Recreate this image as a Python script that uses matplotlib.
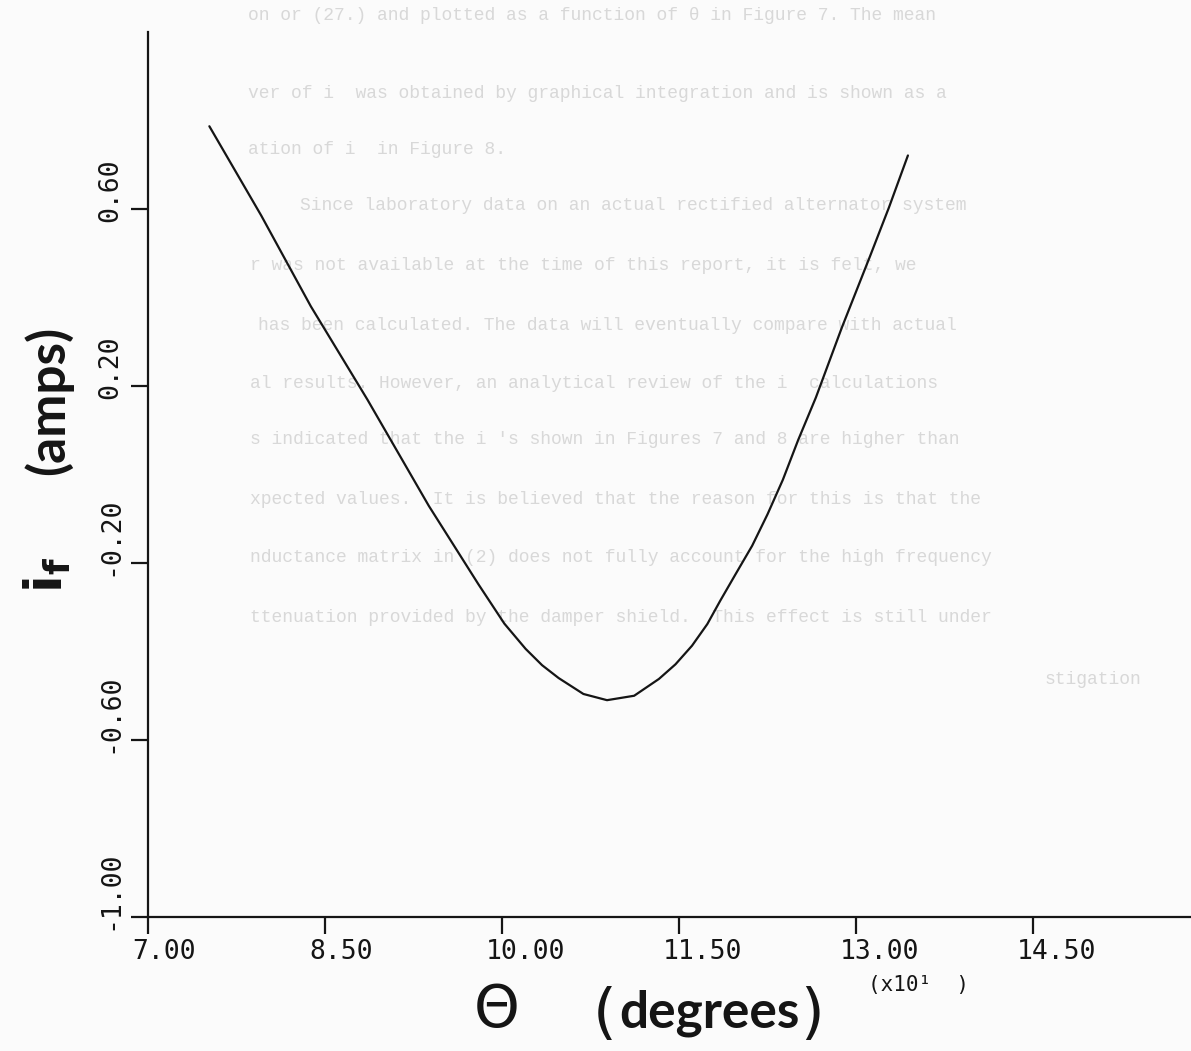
import matplotlib
matplotlib.use('Agg')
import matplotlib.pyplot as plt
from matplotlib.transforms import ScaledTranslation

# field current vs rotor angle (angle in units of 10 degrees)
theta = [7.52, 7.96, 8.38, 8.86, 9.38, 9.80, 10.02, 10.20, 10.34, 10.48,
         10.69, 10.89, 11.12, 11.33, 11.47, 11.61, 11.74, 11.85, 11.98, 12.12,
         12.25, 12.38, 12.51, 12.66, 12.88, 13.12, 13.28, 13.44]
i_f = [0.787, 0.585, 0.380, 0.169, -0.071, -0.248, -0.337, -0.394, -0.431, -0.460,
       -0.496, -0.510, -0.500, -0.462, -0.429, -0.387, -0.338, -0.285, -0.225, -0.161,
       -0.090, -0.012, 0.078, 0.174, 0.332, 0.494, 0.604, 0.721]

x_ticks = [7.00, 8.50, 10.00, 11.50, 13.00, 14.50]
y_ticks = [-1.00, -0.60, -0.20, 0.20, 0.60]

# typed text showing through from the other side of the sheet
page_text = [
    (248, 15, "on or (27.) and plotted as a function of \u03b8 in Figure 7. The mean"),
    (248, 93, "ver of i  was obtained by graphical integration and is shown as a"),
    (248, 150, "ation of i  in Figure 8."),
    (300, 205, "Since laboratory data on an actual rectified alternator system"),
    (250, 265, "r was not available at the time of this report, it is felt, we"),
    (258, 325, "has been calculated. The data will eventually compare with actual"),
    (250, 383, "al results. However, an analytical review of the i  calculations"),
    (250, 440, "s indicated that the i 's shown in Figures 7 and 8 are higher than"),
    (250, 500, "xpected values.  It is believed that the reason for this is that the"),
    (250, 558, "nductance matrix in (2) does not fully account for the high frequency"),
    (250, 617, "ttenuation provided by the damper shield.  This effect is still under"),
    (1045, 680, "stigation"),
]

ink = '#151515'
W, H = 1191, 1051

fig = plt.figure(figsize=(W / 100, H / 100), dpi=100, facecolor='#fbfbfb')

for px, py, s in page_text:
    fig.text(px / W, 1 - py / H, s, ha='left', va='center', fontsize=13,
             family='Liberation Mono', color='#d8d8d8', zorder=-1)

left, bottom, top = 148, 917, 32
ax = fig.add_axes([left / W, 1 - bottom / H, 1 - left / W, (bottom - top) / H])
ax.set_facecolor('none')

ax.plot(theta, i_f, color=ink, lw=1.6, solid_capstyle='round', solid_joinstyle='round')

ax.set_xlim(7.0, 7.0 + (W - left) / 177 * 1.5)
ax.set_ylim(-1.0, 1.0)

for side in ['top', 'right']:
    ax.spines[side].set_visible(False)
for side in ['left', 'bottom']:
    ax.spines[side].set_color(ink)
    ax.spines[side].set_linewidth(1.6)

ax.set_xticks(x_ticks)
ax.set_xticklabels([f'{v:.2f}' for v in x_ticks])
ax.set_yticks(y_ticks)
ax.set_yticklabels([f'{v:.2f}' for v in y_ticks])
ax.tick_params(axis='both', direction='out', length=12, width=1.6, color=ink,
               labelcolor=ink, labelsize=19)
ax.tick_params(axis='x', pad=4)
ax.tick_params(axis='y', pad=6)

# plotter style: labels start one character before the tick
for lab in ax.get_xticklabels():
    lab.set_family('DejaVu Sans Mono')
    lab.set_ha('left')
    lab.set_transform(lab.get_transform() + ScaledTranslation(-0.16, 0, fig.dpi_scale_trans))
for lab in ax.get_yticklabels():
    lab.set_family('DejaVu Sans Mono')
    lab.set_rotation(90)
    lab.set_va('bottom')
    lab.set_transform(lab.get_transform() + ScaledTranslation(0, -0.13, fig.dpi_scale_trans))

fig.text(868 / W, 1 - 985 / H, '(x10\u00b9  )', ha='left', va='center',
         fontsize=15, family='DejaVu Sans Mono', color=ink)

# axis titles
fig.text(497 / W, 1 - 1010 / H, '\u0398', ha='center', va='center',
         fontsize=42, family='DejaVu Sans', color=ink)
fig.text(605 / W, 1 - 1016 / H, '(', ha='center', va='center',
         fontsize=44, family='DejaVu Sans', color=ink)
fig.text(709 / W, 1 - 1013 / H, 'degrees', ha='center', va='center',
         fontsize=37, family='Lato', fontweight='bold', color=ink)
fig.text(812 / W, 1 - 1016 / H, ')', ha='center', va='center',
         fontsize=44, family='DejaVu Sans', color=ink)

fig.text(48 / W, 1 - 400 / H, '(amps)', ha='center', va='center', rotation=90,
         fontsize=37, family='Lato', fontweight='bold', color=ink)
fig.text(48 / W, 1 - 575 / H, r'$\mathbf{i_f}$', ha='center', va='center', rotation=90,
         fontsize=37, color=ink)

fig.savefig('out.png', dpi=100, facecolor=fig.get_facecolor())
